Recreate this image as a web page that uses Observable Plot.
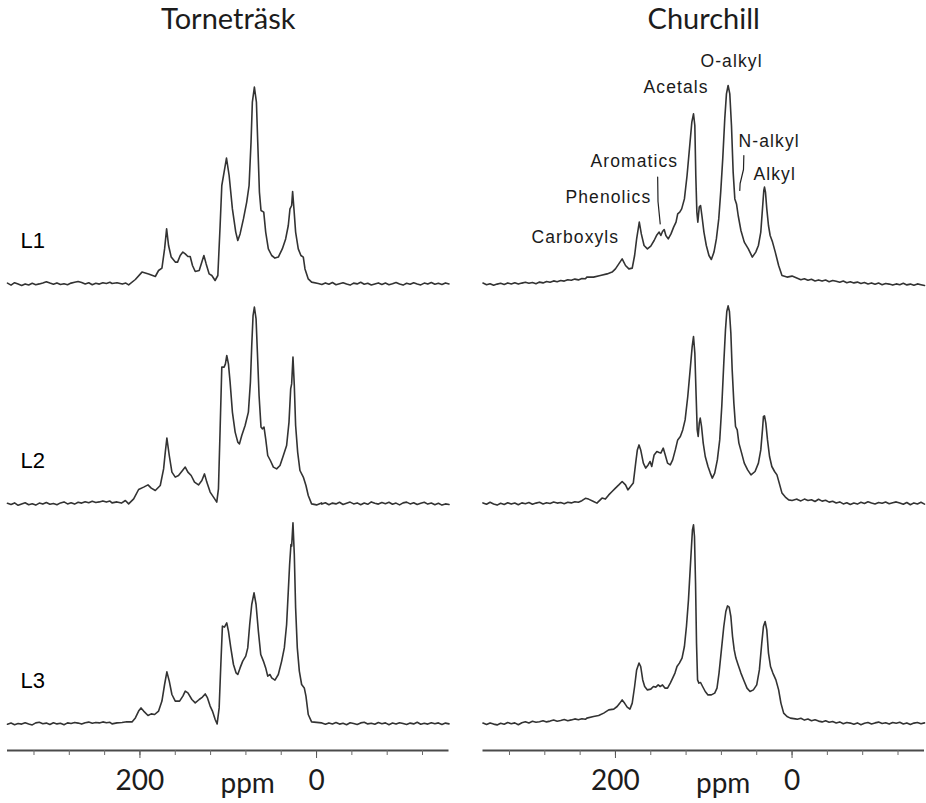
<!DOCTYPE html>
<html>
<head>
<meta charset="utf-8">
<script src="https://cdn.jsdelivr.net/npm/d3@7"></script>
<script src="https://cdn.jsdelivr.net/npm/@observablehq/plot@0.6"></script>
<style>
  html, body { margin: 0; padding: 0; background: #fff; }
  #chart svg { display: block; }
</style>
</head>
<body>
<div id="chart"></div>
<script>
// Sites (columns) and litter layers (rows)
const sites = ["Torneträsk", "Churchill"];
const layers = ["L1", "L2", "L3"];

// Chemical-shift axis ticks (ppm)
const axisTicks = [320, 280, 240, 200, 160, 120, 80, 40, 0, -40, -80, -120];
const labelledTicks = [200, 0];

// Baseline stretches are sampled every 4 ppm on both sides of the signal
const tailLowPpm = d3.range(350, 233, -4);   // 350 … 234
const tailHighPpm = d3.range(-6, -151, -4);  // -6 … -150

// ---- Torneträsk, L1 ----
const torneL1Low = [0.2, -0.8, 0.4, -0.3, -1.0, -0.2, -0.7, 0.1, -0.6, -0.2, 0.3, 0.9, 0.2, -0.4, 0.3, -0.5, -0.1, -0.6, 0.2, 0.6, 1.0, 0.5, -0.2, 0.4, -0.6, 0.1, -0.3, 0.4, 0.0, 0.6];
const torneL1Signal = [[231.6,0],[226,0.4],[220,-0.3],[216,0.2],[212.8,-0.7],[205.2,2],[197.7,5.7],[190.2,4.8],[182.6,3.5],[178.9,6.5],[175.1,7.7],[172.1,17.3],[169.8,27.3],[167.6,19],[164.6,13.2],[160.0,10.7],[157.4,10.7],[154.4,14],[151.4,15.7],[148.7,14.8],[145.7,13.5],[143.1,13.5],[140.5,9],[137.4,6],[132.9,6.5],[129.9,10.7],[127.6,14],[125.0,9.8],[121.6,4.8],[118.6,4],[114.9,1.5],[111.8,4],[109.2,29],[107.3,49],[104.7,55.7],[102.0,62.7],[99.0,54],[95.3,37.3],[91.5,25.7],[89.2,21.5],[86.6,24.8],[82.8,32.3],[79.1,40.7],[76.4,49],[74.2,70.7],[72.7,90.7],[70.4,98.2],[68.1,90.7],[66.6,70.7],[64.7,45.7],[62.9,36.5],[59.8,35.7],[57.6,25.7],[54.6,17.3],[50.8,14],[47.1,12.7],[43.3,13.2],[38.8,17.3],[35.0,22.3],[32.0,29],[30.1,37.3],[28.2,39],[27.1,46],[25.6,37.3],[23.7,25.7],[20.7,17.3],[17.7,14],[15.0,13.2],[13.1,7.3],[9.4,2.3],[5.6,0.7],[-1.9,0]];
const torneL1High = [-0.5, 0.3, -0.4, 0.5, -0.6, -0.1, 0.4, -0.3, -0.8, 0.2, -0.2, 0.6, -0.4, 0.1, -0.7, -0.2, 0.3, -0.5, 0.2, -0.6, -0.1, 0.5, -0.3, -0.8, 0.1, -0.4, 0.4, -0.2, -0.7, 0.2, -0.3, 0.5, -0.4, 0.1, -0.5, 0.3, -0.2];

// ---- Torneträsk, L2 ----
const torneL2Low = [0.1, -0.5, 0.3, -0.9, -0.2, 0.4, -0.6, -0.1, -0.8, 0.2, -0.3, 0.5, -0.4, 0.0, -0.6, 0.3, 0.8, -0.2, 0.4, -0.3, 0.6, 0.2, 0.9, 0.4, 1.1, 0.5, 0.8, 1.3, 0.7, 1.2];
const torneL2Signal = [[231.6,0.3],[226,0.8],[221,0.2],[216.5,1.5],[212.8,-0.2],[207.1,2.3],[201.5,7],[195.8,8.2],[190.9,9.3],[187.2,7.7],[182.6,6.5],[177.0,9],[173.2,17.3],[171.3,25.7],[169.5,32.7],[166.8,24],[163.8,15.7],[160.0,13.2],[156.3,14],[151.8,16.5],[148.7,18.2],[145.7,15.7],[142.0,14],[138.2,10.7],[133.7,9.3],[129.9,11.5],[126.9,14.8],[124.3,10.7],[120.5,5.7],[116.7,3.2],[113.0,0.7],[111.1,7.3],[109.2,37.3],[107.3,68.2],[104.7,68.2],[103.2,69.8],[101.7,74],[99.8,69.8],[97.9,60.7],[95.3,45.7],[92.2,35.7],[89.2,30.7],[87.3,29.8],[84.7,34],[80.9,39],[77.2,45.7],[74.9,60.7],[73.4,79],[71.9,94],[70.4,98.2],[68.5,92.3],[67.0,75.7],[65.1,54],[62.9,38.2],[61.4,37.3],[59.5,38.2],[57.6,32.3],[55.3,24],[52.3,21.5],[48.9,18.2],[45.2,17.3],[41.4,19],[37.6,24],[33.9,29],[31.2,40.7],[29.3,57.3],[28.2,59.8],[26.7,73.2],[25.2,59],[23.7,39],[21.4,25.7],[18.8,16.5],[15.0,13.2],[12.0,9],[9.4,4],[5.6,-0.2],[0,-0.7],[-5.7,0.3]];
const torneL2High = [-0.3, 0.4, -0.6, 0.2, -0.2, 0.6, -0.5, 0.1, 0.7, -0.2, 0.3, -0.6, 0.2, -0.4, 0.8, 0.1, -0.3, 0.5, -0.1, 0.6, -0.4, 0.2, -0.7, 0.3, 0.7, -0.2, 0.4, -0.5, 0.1, 0.6, -0.3, 0.2, -0.6, 0.1, -0.8, -0.2, -0.5];

// ---- Torneträsk, L3 ----
const torneL3Low = [-0.4, 0.2, -0.6, 0.0, -0.3, 0.4, -0.2, -0.7, 0.3, 0.6, -0.1, 0.2, -0.5, 0.4, -0.2, 0.1, -0.6, 0.3, 0.0, 0.5, 0.2, -0.3, 0.4, 0.7, 0.1, 0.5, 0.3, 0.8, 0.4, 0.6];
const torneL3Signal = [[231.6,-0.2],[226,0.3],[220.3,0.5],[215,0.9],[209.0,0.8],[205.2,2.8],[201.5,6.2],[198.8,7.8],[195.8,6.2],[190.9,4],[187.2,4.8],[183.4,4.5],[178.9,6.2],[175.1,11.2],[172.1,19.5],[169.5,25.8],[166.8,21.2],[163.8,14.5],[160.0,11.2],[155.1,11.2],[151.4,13.7],[148.7,16.2],[145.7,15.3],[141.2,12],[137.4,10.3],[132.9,12],[129.2,13.2],[126.1,14.8],[123.5,12.8],[120.5,8.7],[117.9,6.2],[114.8,2],[112.6,-0.2],[110.3,7.8],[108.4,29.5],[106.6,48.7],[104.3,48.2],[101.7,50.3],[99.8,46.2],[97.1,37.8],[94.1,29.5],[91.1,25.3],[89.2,24.5],[86.6,27.8],[83.6,31.2],[80.2,33.7],[77.9,37.8],[75.7,49.5],[73.4,59.5],[70.8,65.3],[68.5,59.5],[65.9,46.2],[63.2,34.5],[60.2,31.2],[57.6,27.8],[55.3,23.7],[52.7,24.5],[50.8,22.8],[47.1,21.7],[43.3,24.5],[39.5,31.2],[36.5,37.8],[33.9,49.5],[32.0,66.2],[30.5,79.5],[29.0,89.5],[28.2,88.7],[26.7,100.3],[25.2,84.5],[23.7,57.8],[21.8,37.8],[19.5,26.2],[16.9,19.5],[13.9,17.8],[12.0,13.7],[9.4,4.5],[5.6,0.8],[-5.7,0.3]];
const torneL3High = [0.2, -0.4, 0.3, -0.2, 0.5, -0.3, 0.1, -0.6, 0.4, 0.0, -0.5, 0.3, 0.6, -0.2, 0.1, -0.4, 0.5, -0.1, 0.3, -0.6, 0.2, -0.3, 0.4, 0.0, -0.5, 0.2, -0.2, 0.6, -0.4, 0.1, -0.3, 0.4, -0.1, 0.3, -0.5, 0.2, -0.2];

// ---- Churchill, L1 ----
const churchL1Low = [0.2, -0.6, -0.1, -0.9, -0.3, 0.1, -0.5, 0.3, -0.2, 0.4, -0.3, 0.2, 0.6, 0.1, 0.5, -0.1, 0.7, 0.3, 1.0, 0.6, 1.3, 0.9, 1.5, 1.2, 1.9, 1.6, 2.2, 1.8, 2.5, 2.4];
const churchL1Signal = [[232.4,3.2],[224.8,3.2],[217.1,4],[209.5,4.8],[203.8,5.7],[200.0,7.3],[196.2,9.8],[192.4,12.3],[188.6,9],[184.8,7.3],[181.0,7.7],[178.3,14],[176.0,22.3],[173.0,30.7],[170.7,24.8],[167.6,19],[163.8,17.3],[160.0,18.7],[156.2,21.5],[153.1,24.3],[150.5,25.7],[148.6,24],[146.7,26],[144.8,27],[142.9,24],[140.2,22.3],[137.1,24.8],[134.1,28.2],[131.4,30.7],[129.5,34.8],[127.2,35.7],[125.0,37.3],[121.9,42.3],[118.9,54],[116.2,67.3],[113.5,80.7],[111.6,84.8],[110.1,79],[109.0,54],[107.8,35.7],[106.7,30.7],[105.1,38.2],[103.6,39],[102.1,34],[99.8,25.7],[97.1,19],[94.1,14],[91.4,12],[88.4,15.7],[85.7,22.3],[83.0,32.3],[80.8,45.7],[78.5,62.3],[76.2,82.3],[74.3,94.8],[72.4,99],[70.5,94.8],[68.6,79],[66.7,55.7],[64.8,42.3],[62.9,39.8],[61.0,34],[57.9,26.5],[54.1,20.7],[49.5,17.3],[45.0,13.2],[41.1,15.7],[38.1,19],[35.4,25.7],[33.5,37.3],[32.0,46.5],[31.2,48.2],[30.1,45.7],[28.6,37.3],[26.7,29],[24.8,24],[22.1,20.7],[19.0,15.7],[15.2,9],[11.4,4],[5.7,3.2],[0,3.7]];
const churchL1High = [2.6, 1.9, 2.4, 1.6, 2.1, 1.3, 1.8, 1.2, 1.7, 0.9, 1.5, 1.1, 0.6, 1.2, 0.4, 0.9, 0.3, 0.7, 0.0, 0.5, -0.2, 0.3, -0.4, 0.2, -0.6, 0.0, -0.3, -0.8, -0.2, -0.6, 0.1, -0.7, -0.3, -0.9, -0.2, -0.6, -1.0];

// ---- Churchill, L2 ----
const churchL2Low = [0.3, -0.4, 0.6, -0.2, -0.8, 0.1, -0.5, 0.4, -0.3, 0.2, -0.6, 0.3, -0.1, 0.5, -0.4, 0.2, 0.6, -0.2, 0.4, 0.0, 0.7, 0.2, 0.5, -0.1, 0.6, 0.3, 0.9, 0.6, 1.4, 2.6];
const churchL2Signal = [[230.5,2.2],[224.8,1],[221.0,0.2],[215.2,2.7],[211.4,2.2],[207.6,4.3],[203.8,6],[200.0,7.7],[196.2,9.3],[192.4,11],[188.6,9.3],[185.9,6.8],[182.9,8.5],[179.8,10.2],[177.1,20.2],[175.2,26.8],[173.3,29.3],[171.4,26.8],[168.4,20.2],[165.7,17.7],[163.0,19.3],[160.8,21],[158.9,18.5],[156.2,24.3],[153.1,26],[150.5,25.5],[148.6,25.2],[145.9,27.7],[143.6,24.3],[141.0,20.2],[137.9,19.3],[135.2,21.8],[132.2,26.8],[129.5,31.8],[126.5,33.5],[123.8,36.8],[121.1,41.8],[118.1,53.5],[115.4,66.8],[113.1,78.5],[111.6,83.5],[110.1,75.2],[108.6,53.5],[107.4,36.8],[106.3,33.5],[105.1,40.2],[104.0,42.7],[102.5,38.5],[100.6,30.2],[98.3,23.5],[95.2,18.5],[92.6,15.2],[90.3,12.7],[87.6,15.2],[84.6,21.8],[81.9,31.8],[79.6,48.5],[77.3,70.2],[75.4,86.8],[73.9,96],[72.4,98.8],[70.9,96],[69.3,85.2],[67.8,66.8],[65.9,50.2],[64.0,38.5],[62.1,36.8],[60.2,30.2],[57.1,25.2],[54.1,20.2],[50.3,16.8],[46.5,14.3],[41.9,16],[38.1,20.2],[35.4,26.8],[33.5,36.8],[32.4,43.5],[31.2,43.8],[29.7,40.2],[27.8,31.8],[25.5,23.5],[22.9,18.5],[19.8,16],[17.1,14.3],[14.5,10.2],[11.4,5.2],[7.6,3.2],[3.8,1.8],[0,1.5],[-5.7,2.2]];
const churchL2High = [2.0, 1.3, 2.2, 1.5, 1.9, 1.0, 2.1, 1.2, 1.6, 0.7, 1.1, 0.3, 0.8, -0.2, 0.4, -0.5, 0.2, -0.3, 0.6, 0.0, 0.9, 0.3, -0.2, 0.5, 0.1, 0.7, -0.1, 0.4, 0.8, 0.2, -0.4, 0.5, -0.6, 0.3, -0.2, 0.6, -0.3];

// ---- Churchill, L3 ----
const churchL3Low = [0.2, -0.5, 0.3, -0.3, -0.7, 0.1, -0.4, 0.5, -0.1, 0.3, -0.6, 0.4, 0.9, 0.3, 1.1, 0.6, 0.9, 1.4, 0.8, 1.2, 1.7, 1.1, 1.5, 2.0, 1.4, 1.8, 2.3, 1.9, 2.4, 2.1];
const churchL3Signal = [[232.4,2.7],[224.8,3.5],[219.0,4],[213.3,5.2],[207.6,6.8],[201.9,7.2],[198.1,8.5],[195.0,10.2],[192.4,11.8],[189.7,10.2],[186.7,8.2],[183.6,7.2],[181.0,10.2],[178.3,18.5],[176.0,26.8],[173.3,30.2],[171.4,28.5],[169.1,21.8],[166.9,18.5],[163.8,16.8],[160.0,17.2],[157.0,18.5],[154.3,18.2],[151.6,19.3],[149.3,18.5],[146.7,19.3],[144.0,17.7],[141.0,17.7],[137.9,20.2],[135.2,22.7],[132.6,25.2],[130.3,28.5],[127.6,30.2],[124.6,32.7],[121.9,38.5],[119.6,48.5],[117.3,61.8],[115.4,76.8],[113.9,88.5],[112.8,96.8],[111.6,99.3],[110.5,93.5],[109.3,70.2],[108.2,40.2],[107.0,21.8],[105.5,20.2],[103.6,20.5],[101.3,18.5],[98.3,16],[95.2,14.3],[91.4,14.3],[87.6,15.2],[85.0,17.7],[82.7,25.2],[80.0,36.8],[77.3,48.5],[75.0,56],[73.1,58.8],[71.2,58.2],[69.3,53.5],[67.4,43.5],[65.5,36.8],[63.6,32.7],[61.0,29.3],[57.9,25.2],[54.1,21],[51.0,17.7],[47.6,16],[43.8,16.8],[40.0,19.3],[37.0,26.8],[34.3,40.2],[32.4,48.5],[30.5,51],[28.6,46.8],[26.7,35.2],[24.4,28.5],[21.7,25.2],[18.3,21.8],[15.2,16.8],[12.6,10.2],[9.5,5.2],[5.7,3.5],[1.9,2.7],[-3.8,2.3]];
const churchL3High = [2.1, 2.6, 1.7, 2.2, 1.4, 1.9, 1.2, 0.8, 1.4, 0.6, 1.0, 0.3, 0.8, -0.1, 0.5, 0.2, -0.4, 0.3, -0.6, 0.1, 0.5, -0.2, 0.3, 0.7, 0.0, 0.4, -0.3, 0.5, 0.1, 0.6, -0.2, 0.3, -0.5, 0.2, 0.5, -0.1, 0.3];

// Peak assignments written on the Churchill L1 spectrum (label anchor in ppm / intensity)
const peakGroups = ["Carboxyls", "Phenolics", "Aromatics", "Acetals", "O-alkyl", "N-alkyl", "Alkyl"];
const peakLabelPpm = [295.1, 256.6, 228.3, 168.2, 103.7, 60.6, 43.7];
const peakLabelLevel = [20.5, 40.5, 58.5, 95.5, 108.5, 68.5, 52];
// Leader strokes pointing into the aromatic/phenolic and N-alkyl regions
const phenolicsLeader = [[152.2, 53.2], [151.8, 41], [149.3, 29.8]];
const nAlkylLeader = [[54.6, 64], [55.0, 57], [58.8, 50], [59.2, 46.5]];

// Assemble one tidy row per sample point
function spectrum(site, layer, low, signal, high) {
  const points = [
    ...tailLowPpm.map((p, i) => [p, low[i]]),
    ...signal,
    ...tailHighPpm.map((p, i) => [p, high[i]])
  ].sort((a, b) => b[0] - a[0]);
  return points.map(([ppm, intensity]) => ({site, layer, ppm, intensity}));
}

const spectra = [
  ...spectrum("Torneträsk", "L1", torneL1Low, torneL1Signal, torneL1High),
  ...spectrum("Torneträsk", "L2", torneL2Low, torneL2Signal, torneL2High),
  ...spectrum("Torneträsk", "L3", torneL3Low, torneL3Signal, torneL3High),
  ...spectrum("Churchill", "L1", churchL1Low, churchL1Signal, churchL1High),
  ...spectrum("Churchill", "L2", churchL2Low, churchL2Signal, churchL2High),
  ...spectrum("Churchill", "L3", churchL3Low, churchL3Signal, churchL3High)
];

const peakLabels = peakGroups.map((name, i) => ({
  site: "Churchill", layer: "L1", name, ppm: peakLabelPpm[i], level: peakLabelLevel[i]
}));
const leaders = [
  ...phenolicsLeader.map(([ppm, level]) => ({site: "Churchill", layer: "L1", group: "phenolics", ppm, level})),
  ...nAlkylLeader.map(([ppm, level]) => ({site: "Churchill", layer: "L1", group: "n-alkyl", ppm, level}))
];

const titleRow = sites.map(site => ({site, layer: "L1"}));
const bottomRow = sites.map(site => ({site, layer: "L3"}));
const layerRows = layers.map(layer => ({site: "Torneträsk", layer}));

const yMin = -13.5, yMax = 96.5;
const arial = "'Liberation Sans', Arial, sans-serif";

const chart = Plot.plot({
  width: 926,
  height: 803,
  marginTop: 90,
  marginBottom: 53,
  marginLeft: 7,
  marginRight: 2,
  style: {fontFamily: "Lato, 'Open Sans', sans-serif", background: "#fff", color: "#1c1c1c"},
  x: {domain: [350, -150]},
  y: {domain: [yMin, yMax], axis: null},
  fx: {domain: sites, paddingInner: 0.0715, paddingOuter: 0, round: false, axis: null},
  fy: {domain: layers, padding: 0, round: false, axis: null},
  marks: [
    // spectra
    Plot.line(spectra, {
      x: "ppm", y: "intensity", fx: "site", fy: "layer",
      stroke: "#333", strokeWidth: 1.6, strokeLinejoin: "round"
    }),
    // ppm axis baseline under the bottom spectra
    Plot.ruleY(bottomRow, {fx: "site", fy: "layer", y: yMin, stroke: "#4a4a4a", strokeWidth: 2}),
    // minor ticks every 40 ppm
    Plot.axisX({ticks: axisTicks, tickSize: 5, tickFormat: () => "", label: null, stroke: "#6a6a6a"}),
    // labelled ticks
    Plot.axisX({
      ticks: labelledTicks, tickSize: 8, tickPadding: 12, fontSize: 28,
      label: null, stroke: "#555", fill: "#1c1c1c"
    }),
    // "ppm" unit under each axis
    Plot.text(bottomRow, {
      fx: "site", fy: "layer", x: 78, text: () => "ppm",
      frameAnchor: "bottom", dy: 42, lineAnchor: "bottom", fontSize: 28, fill: "#1c1c1c"
    }),
    // site titles
    Plot.text(titleRow, {
      fx: "site", fy: "layer", text: "site",
      frameAnchor: "top", dy: -61.5, lineAnchor: "bottom", fontSize: 29, fill: "#1c1c1c"
    }),
    // layer labels
    Plot.text(layerRows, {
      fx: "site", fy: "layer", text: "layer",
      frameAnchor: "left", y: 18, dx: 13, textAnchor: "start", lineAnchor: "bottom",
      fontSize: 22, fontFamily: arial, fill: "#000"
    }),
    // peak assignments
    Plot.line(leaders, {
      x: "ppm", y: "level", z: "group", fx: "site", fy: "layer",
      stroke: "#222", strokeWidth: 1.2
    }),
    Plot.text(peakLabels, {
      x: "ppm", y: "level", fx: "site", fy: "layer", text: "name",
      textAnchor: "start", lineAnchor: "bottom",
      fontSize: 17.5, fontFamily: arial, fill: "#1a1a1a"
    })
  ]
});

// the peak-assignment lettering is set slightly open
chart.querySelectorAll("text").forEach(t => {
  if (peakGroups.includes(t.textContent)) t.style.letterSpacing = "1.1px";
});

document.getElementById("chart").append(chart);
</script>
</body>
</html>
